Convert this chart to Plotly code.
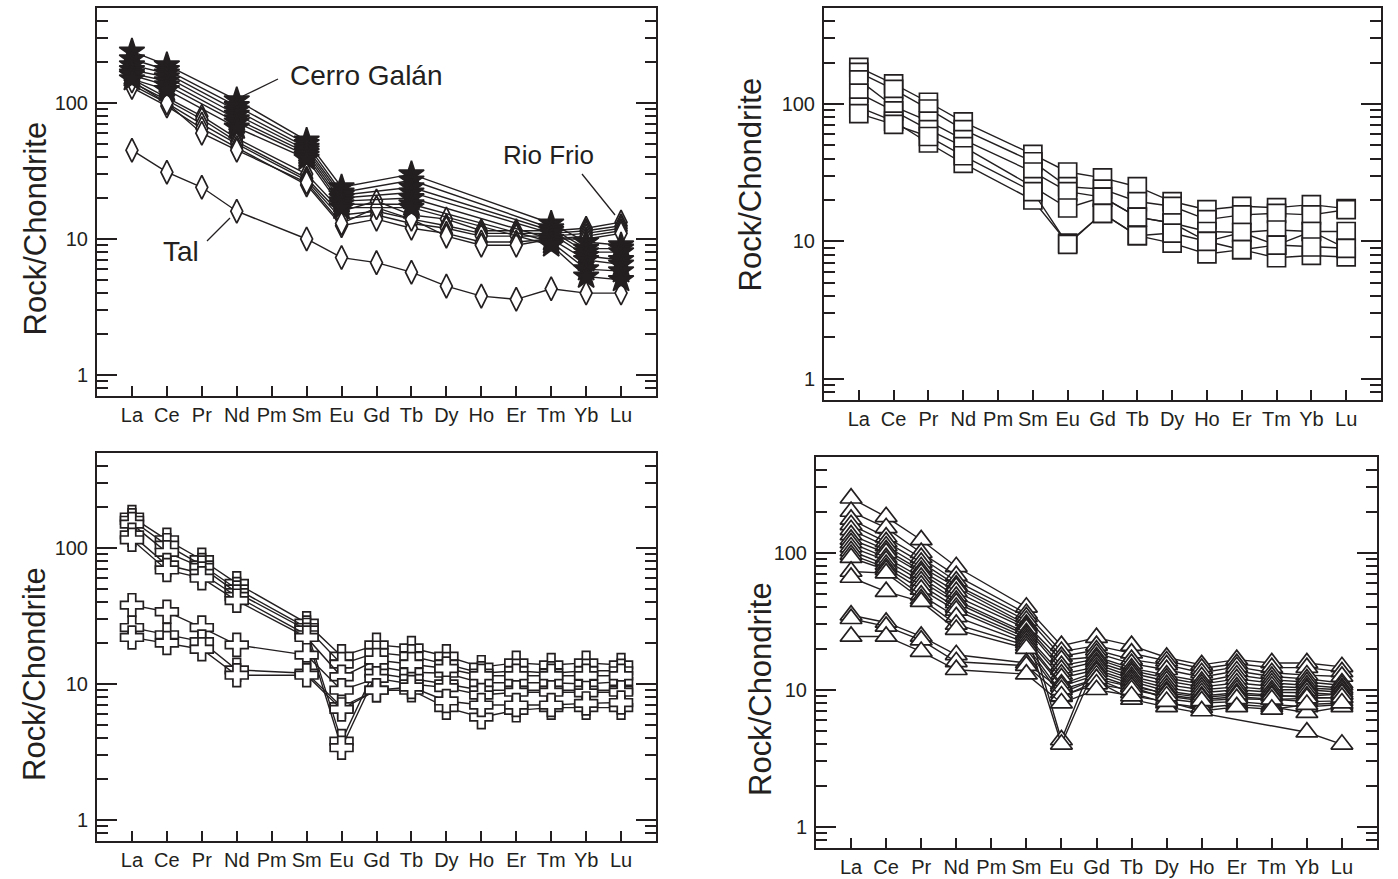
import math
import plotly.graph_objects as go

# ---------------- data ----------------
ELEMENTS = ['La', 'Ce', 'Pr', 'Nd', 'Pm', 'Sm', 'Eu', 'Gd', 'Tb', 'Dy', 'Ho', 'Er', 'Tm', 'Yb', 'Lu']
N = None

# Panel A (top-left): Cerro Galán (stars), other diamonds, Tal
#            La   Ce   Pr  Nd  Pm  Sm  Eu  Gd  Tb  Dy  Ho  Er  Tm   Yb   Lu
A_STARS = [
    [240, 190, N, 105, N, 53, 24, N, 30, N, N, N, 13.0, 9.5, 9.0],
    [210, 175, N, 95, N, 50, 22, N, 27, N, N, N, 12.0, 8.5, 8.5],
    [190, 165, N, 88, N, 47, 21, N, 24, N, N, N, 11.5, 8.0, 8.0],
    [175, 155, N, 82, N, 45, 20, N, 22, N, N, N, 11.0, 7.5, 7.0],
    [165, 145, N, 76, N, 43, 19, N, 20, N, N, N, 10.0, 7.0, 6.5],
    [160, 135, N, 72, N, 41, 18, N, 18, N, N, N, 9.5, 6.0, 5.8],
    [150, 125, N, 66, N, 39, 17, N, 17, N, N, N, 9.0, 5.3, 5.0],
]
A_DIAMONDS = [
    [150, 110, 80, 55, N, 30, 16.0, 19, 15, 14.0, 11.5, 11.5, 11.5, 12.0, 13.3],
    [142, 105, 76, 52, N, 28, 15.0, 16, 14, 12.5, 11.0, 11.0, 11.0, 11.5, 12.5],
    [136, 100, 70, 50, N, 27, 14.0, 15, 13, 12.0, 10.5, 10.5, 10.5, 11.0, 12.0],
    [130, 95, 65, 47, N, 25, 12.5, 14, 12, 11.0, 9.5, 9.5, 10.0, 10.5, 11.5],
    [145, 100, 60, 45, N, 26, 13.0, 17, 14, 10.5, 9.0, 9.0, 10.0, 10.0, 11.0],
]
A_TAL = [45, 31, 24, 16, N, 10, 7.3, 6.7, 5.7, 4.5, 3.8, 3.6, 4.3, 4.0, 4.0]

# Panel B (top-right): squares
B_SQUARES = [
    [185, 140, 103, 74, N, 43, 32.0, 29, 25.0, 19.5, 17.0, 18.0, 17.6, 18.5, 17.3],
    [170, 128, 92, 65, N, 38, 25.0, 24, 19.5, 18.0, 14.4, 15.6, 16.0, 15.6, 17.0],
    [150, 96, 75, 55, N, 32, 23.0, 21, 15.0, 13.6, 11.8, 11.6, 12.1, 11.8, 11.8],
    [120, 89, 65, 49, N, 25, 17.5, 21, 15.0, 13.6, 10.0, 11.6, 9.4, 11.8, 8.9],
    [95, 75, 52, 37, N, 20, 9.7, 16, 11.0, 9.7, 8.1, 8.7, 7.6, 7.9, 7.7],
    [85, 71, 58, 42, N, 23, 9.5, 16, 11.0, 11.5, 10.0, 8.7, 9.4, 9.1, 8.9],
]

# Panel C (bottom-left): crosses
C_CROSSES = [
    [169, 115, 82, 55, N, 28, 16.0, 19.4, 18.4, 16.0, 13.3, 14.3, 13.8, 14.3, 13.8],
    [160, 105, 75, 50, N, 26, 14.0, 17.0, 16.0, 14.0, 12.0, 12.5, 12.0, 12.5, 12.5],
    [150, 93, 72, 47, N, 25, 3.8, 13.5, 12.2, 12.0, 10.2, 10.2, 10.2, 10.0, 10.4],
    [125, 75, 65, 44, N, 23, 3.4, 12.0, 11.0, 10.0, 9.0, 9.0, 9.0, 9.0, 9.0],
    [115, 69, 60, 41, N, 22, 11.3, 15.0, 14.0, 13.0, 11.5, 11.5, 11.5, 11.5, 11.5],
    [38, 34, 26, 19.4, N, 16.3, 9.0, 11.0, 10.0, 9.4, 8.3, 8.7, 8.7, 8.6, 8.7],
    [26, 23, 20.5, 12.7, N, 12.0, 6.8, 9.0, 9.0, 6.7, 5.7, 6.4, 6.7, 6.7, 6.7],
    [22, 20, 18, 11.6, N, 11.6, 6.5, 9.0, 9.5, 7.5, 7.0, 7.0, 7.0, 7.2, 7.3],
]

# Panel D (bottom-right): triangles
D_TRIANGLES = [
    [250, 183, 124, 79, N, 40, 21.0, 24.0, 21.0, 17.2, 15.2, 16.6, 15.7, 15.7, 14.7],
    [200, 152, 100, 68, N, 36, 19.0, 21.0, 18.5, 16.2, 14.3, 15.5, 14.5, 14.5, 13.5],
    [175, 130, 92, 62, N, 34, 17.5, 19.5, 16.6, 15.2, 13.3, 14.7, 13.3, 12.8, 12.5],
    [160, 120, 85, 58, N, 32, 4.3, 18.5, 15.5, 14.0, 12.4, 13.7, 12.5, 12.0, 11.2],
    [147, 112, 79, 56, N, 30, 16.5, 17.4, 14.4, 12.8, 11.5, 12.8, 11.8, 11.4, 10.8],
    [135, 105, 74, 52, N, 29, 15.0, 16.8, 13.8, 12.2, 11.0, 12.0, 11.2, 10.8, 10.3],
    [125, 100, 71, 48, N, 28, 14.0, 16.0, 13.2, 11.6, 10.5, 11.2, 10.6, 10.3, 10.0],
    [118, 92, 66, 45, N, 26, 4.0, 15.4, 12.5, 10.9, 10.0, 10.5, 10.0, 10.0, 9.6],
    [110, 88, 62, 43, N, 25, 13.0, 14.7, 12.0, 10.3, 9.5, 10.0, 9.6, 9.5, 9.2],
    [103, 82, 58, 40, N, 24, 12.2, 14.0, 11.5, 9.8, 9.0, 9.5, 9.2, 8.8, 8.7],
    [97, 78, 54, 38, N, 23, 11.0, 13.5, 11.0, 9.2, 8.5, 8.9, 8.5, 8.2, 8.3],
    [92, 75, 49, 34, N, 22, 10.6, 12.8, 10.5, 8.6, 8.0, 8.2, 7.8, 7.5, 7.8],
    [73, 71, 46, 30, N, 21, 9.5, 12.0, 9.5, 8.0, 7.4, 7.8, 7.5, 6.8, 7.5],
    [66, 52, 44, 27.5, N, 20, 8.9, 11.5, 8.5, 7.5, N, N, N, 4.9, 4.0],
    [35, 31, 24.5, 18, N, 15.7, 10.0, 12.0, 10.5, 9.5, 8.8, 9.2, 9.0, 9.0, 9.3],
    [33, 29, 23, 16, N, 15.0, 9.0, 11.0, 10.0, 9.0, 8.3, 8.6, 8.5, 8.7, 8.8],
    [24.5, 24.5, 19, 14, N, 13.0, 8.0, 10.0, 9.0, 8.2, 7.0, 7.5, 7.2, 7.8, 8.0],
]

Y_TICKS = [1, 10, 100]
Y_MINOR = [0.8, 0.9, 2, 3, 4, 5, 6, 7, 8, 9, 20, 30, 40, 50, 60, 70, 80, 90, 200, 300, 400]

# ---------------- styling ----------------
INK = '#231f20'
FONT = 'Liberation Sans, Arial, sans-serif'
W, H = 1398, 879
XPOS = list(range(1, len(ELEMENTS) + 1))

fig = go.Figure()


def add_series(series_list, ax, symbol, size, fill):
    xa = 'x' if ax == 1 else f'x{ax}'
    ya = 'y' if ax == 1 else f'y{ax}'
    for s in series_list:
        fig.add_trace(go.Scatter(
            x=XPOS, y=s, xaxis=xa, yaxis=ya, mode='lines+markers',
            connectgaps=True, showlegend=False, hoverinfo='skip',
            line=dict(color=INK, width=1.4),
            marker=dict(symbol=symbol, size=size, color=fill,
                        line=dict(color=INK, width=1.7)),
        ))


add_series([A_TAL], 1, 'diamond-tall', 17, 'white')
add_series(A_DIAMONDS, 1, 'diamond-tall', 17, 'white')
add_series(A_STARS, 1, 'star', 19, INK)
add_series(B_SQUARES, 2, 'square', 18, 'white')
add_series(C_CROSSES, 3, 'cross', 19, 'white')
add_series(D_TRIANGLES, 4, 'triangle-up', 19, 'white')

# panel boxes in pixels (left, right, top, bottom)
BOXES = {
    1: (97, 656, 8, 396),
    2: (824, 1381, 8, 400),
    3: (97, 656, 453, 841),
    4: (816, 1377, 457, 848),
}

YRANGE = [math.log10(0.7), math.log10(500)]

for k, (l, r, t, b) in BOXES.items():
    sx = '' if k == 1 else str(k)
    fig.layout[f'xaxis{sx}'] = dict(
        domain=[l / W, r / W], anchor=f'y{sx}', range=[0, 16],
        tickmode='array', tickvals=XPOS, ticktext=ELEMENTS,
        ticks='inside', ticklen=10, tickwidth=1.5, tickcolor=INK,
        showline=True, linecolor=INK, linewidth=2, mirror=True,
        showgrid=False, zeroline=False,
        tickfont=dict(family=FONT, size=20, color=INK),
    )
    fig.layout[f'yaxis{sx}'] = dict(
        domain=[1 - b / H, 1 - t / H], anchor=f'x{sx}', type='log', range=YRANGE,
        tickmode='array', tickvals=Y_TICKS, ticktext=[str(v) for v in Y_TICKS],
        ticks='inside', ticklen=20, tickwidth=2, tickcolor=INK,
        showline=True, linecolor=INK, linewidth=2, mirror='allticks',
        showgrid=False, zeroline=False, ticklabelstandoff=3,
        tickfont=dict(family=FONT, size=20, color=INK),
        minor=dict(tickmode='array', tickvals=Y_MINOR, ticks='inside',
                   ticklen=11, tickwidth=1.5, tickcolor=INK, showgrid=False),
    )

annotations = []
# y-axis titles
for (cx, cy) in [(34.5, 229), (749.5, 185), (34, 674), (760, 689)]:
    annotations.append(dict(
        x=cx / W, y=1 - cy / H, xref='paper', yref='paper', text='Rock/Chondrite',
        textangle=-90, showarrow=False, xanchor='center', yanchor='middle',
        font=dict(family=FONT, size=31, color=INK)))

# labels in panel A
for (txt, cx, cy, fs) in [('Cerro Galán', 366, 76, 28), ('Rio Frio', 548, 155, 26), ('Tal', 181, 251, 28)]:
    annotations.append(dict(
        x=cx / W, y=1 - cy / H, xref='paper', yref='paper', text=txt,
        showarrow=False, xanchor='center', yanchor='middle',
        font=dict(family=FONT, size=fs, color=INK)))

shapes = []
for (x0, y0, x1, y1) in [(278, 79, 243, 96), (582, 174, 615, 215), (207, 241, 230, 218)]:
    shapes.append(dict(type='line', xref='paper', yref='paper',
                       x0=x0 / W, y0=1 - y0 / H, x1=x1 / W, y1=1 - y1 / H,
                       line=dict(color=INK, width=1.3)))

fig.update_layout(
    width=W, height=H, margin=dict(l=0, r=0, t=0, b=0),
    paper_bgcolor='white', plot_bgcolor='white',
    annotations=annotations, shapes=shapes, showlegend=False,
    font=dict(family=FONT, color=INK),
)

fig.write_html('out.html')
